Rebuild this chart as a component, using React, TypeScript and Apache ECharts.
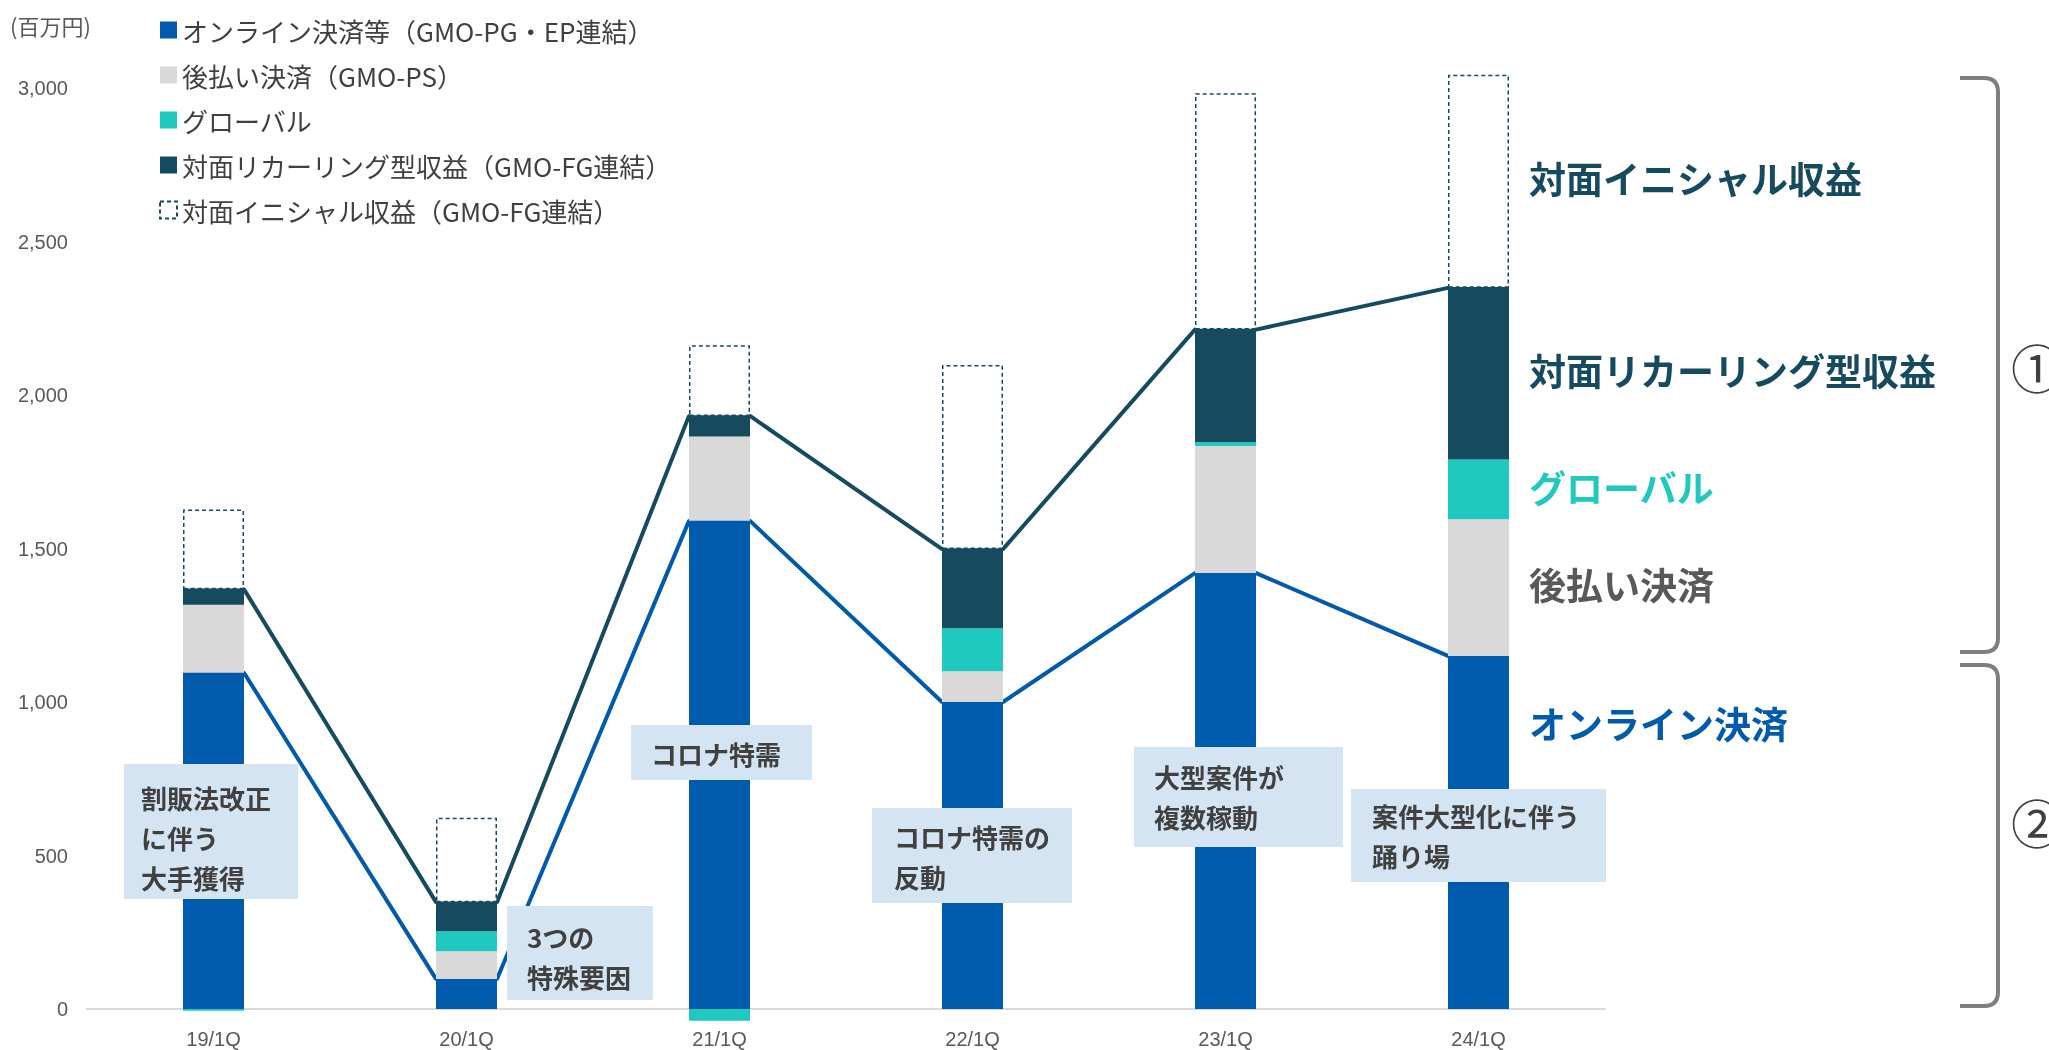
import React, { useEffect, useRef } from 'react';
import * as echarts from 'echarts';

const categories = ['19/1Q', '20/1Q', '21/1Q', '22/1Q', '23/1Q', '24/1Q'];
const seriesNames = [
  'オンライン決済等（GMO-PG・EP連結）',
  '後払い決済（GMO-PS）',
  'グローバル',
  '対面リカーリング型収益（GMO-FG連結）',
  '対面イニシャル収益（GMO-FG連結）',
];
const online = [1095, 98, 1590, 1000, 1420, 1150];
const deferred = [222, 90, 275, 100, 414, 445];
const globalRev = [-6, 65, -38, 140, 12, 195];
const recurring = [50, 95, 67, 258, 367, 559];
const initial = [260, 275, 230, 600, 770, 694];

const notes = [
  '割販法改正\nに伴う\n大手獲得',
  '3つの\n特殊要因',
  'コロナ特需',
  'コロナ特需の\n反動',
  '大型案件が\n複数稼動',
  '案件大型化に伴う\n踊り場',
];
const sideLabels = ['対面イニシャル収益', '対面リカーリング型収益', 'グローバル', '後払い決済', 'オンライン決済'];
const groupMarks = ['①', '②'];

const C_ONLINE = '#005BAC';
const C_GRAY = '#D9D9D9';
const C_TEAL = '#20C9BD';
const C_DARK = '#164A5F';
const FONT = '"Noto Sans CJK JP", "Noto Sans", sans-serif';
const LATIN = '"Liberation Sans", Arial, sans-serif';

echarts.graphic.registerShape(
  'braces',
  echarts.graphic.extendPath(
    'M1960,78 L1984,78 Q1998,78 1998,92 L1998,638 Q1998,652 1984,652 L1960,652 M1960,665 L1984,665 Q1998,665 1998,679 L1998,992 Q1998,1006 1984,1006 L1960,1006',
    {}
  )
);

export default function App() {
  const ref = useRef<HTMLDivElement>(null);
  useEffect(() => {
    if (!ref.current) return;
    const chart = echarts.init(ref.current, null, { renderer: 'svg' });
    const h = 0.1206;
    const recurringTop = online.map((v, i) => v + deferred[i] + Math.max(globalRev[i], 0) + recurring[i]);
    const onlineLine = online.flatMap((v, i) => [[i - h, v], [i + h, v]]);
    const recLine = recurringTop.flatMap((v, i) => [[i - h, v], [i + h, v]]);

    const noteBoxes = [
      { x: 124, y: 764, w: 174, h: 135, tx: 141, ty: 797 },
      { x: 507, y: 906, w: 146, h: 94, tx: 527, ty: 936 },
      { x: 631, y: 725, w: 181, h: 55, tx: 651, ty: 753 },
      { x: 872, y: 808, w: 200, h: 95, tx: 894, ty: 836 },
      { x: 1134, y: 747, w: 209, h: 100, tx: 1154, ty: 776 },
      { x: 1351, y: 789, w: 255, h: 93, tx: 1372, ty: 815 },
    ];
    const sidePos = [
      { y: 178, c: C_DARK },
      { y: 370, c: C_DARK },
      { y: 487, c: C_TEAL },
      { y: 584, c: '#595959' },
      { y: 723, c: C_ONLINE },
    ];

    const graphics: any[] = [
      {
        type: 'text',
        z: 100,
        style: { text: '(百万円)', x: 10, y: 25, fontSize: 22, fontFamily: FONT, fill: '#595959', textVerticalAlign: 'middle' },
      },
      {
        type: 'braces',
        z: 100,
        x: 0,
        y: 0,
        style: { stroke: '#7F7F7F', lineWidth: 4, fill: 'none' },
      },
    ];
    notes.forEach((t, i) => {
      const b = noteBoxes[i];
      graphics.push({
        type: 'rect',
        z: 100,
        shape: { x: b.x, y: b.y, width: b.w, height: b.h },
        style: { fill: '#D5E4F2' },
      });
      graphics.push({
        type: 'text',
        z: 101,
        style: {
          text: t,
          x: b.tx,
          y: b.ty - 20,
          fontSize: 26,
          fontWeight: 'bold',
          fontFamily: FONT,
          lineHeight: 40,
          fill: '#404040',
        },
      });
    });
    sideLabels.forEach((t, i) => {
      graphics.push({
        type: 'text',
        z: 100,
        style: {
          text: t,
          x: 1529,
          y: sidePos[i].y,
          fontSize: 37,
          fontWeight: 'bold',
          fontFamily: FONT,
          fill: sidePos[i].c,
          textVerticalAlign: 'middle',
        },
      });
    });
    groupMarks.forEach((t, i) => {
      graphics.push({
        type: 'text',
        z: 100,
        style: {
          text: t,
          x: 2011,
          y: i === 0 ? 366 : 821,
          fontSize: 52,
          fontFamily: FONT,
          fill: '#404040',
          textVerticalAlign: 'middle',
        },
      });
    });

    const barBase = { type: 'bar', stack: 'total', barWidth: 61, clip: false, z: 3 };
    chart.setOption({
      animation: false,
      textStyle: { fontFamily: FONT },
      grid: { left: 87, right: 444, top: 88, bottom: 41, containLabel: false },
      legend: {
        data: seriesNames.map((n, i) =>
          i === 4
            ? { name: n, icon: 'rect', itemStyle: { color: '#FFFFFF', borderColor: C_DARK, borderWidth: 2, borderType: [4, 3] } }
            : { name: n, icon: 'rect' }
        ),
        orient: 'vertical',
        left: 154,
        top: 10,
        itemWidth: 17,
        itemHeight: 17,
        itemGap: 15,
        selectedMode: false,
        textStyle: { fontSize: 26, color: '#404040', lineHeight: 30, fontFamily: FONT },
      },
      xAxis: [
        {
          type: 'category',
          data: categories,
          axisLine: { lineStyle: { color: '#D9D9D9', width: 2 } },
          axisTick: { show: false },
          axisLabel: { color: '#595959', fontSize: 20, margin: 20, fontFamily: LATIN },
        },
        { type: 'value', min: -0.5, max: 5.5, show: false },
      ],
      yAxis: {
        type: 'value',
        min: 0,
        max: 3000,
        interval: 500,
        axisLine: { show: false },
        axisTick: { show: false },
        splitLine: { show: false },
        axisLabel: {
          color: '#595959',
          fontSize: 20,
          margin: 19,
          fontFamily: LATIN,
          formatter: (v: number) => v.toLocaleString('en-US'),
        },
      },
      series: [
        { ...barBase, name: seriesNames[0], data: online, itemStyle: { color: C_ONLINE } },
        { ...barBase, name: seriesNames[1], data: deferred, itemStyle: { color: C_GRAY } },
        { ...barBase, name: seriesNames[2], data: globalRev, itemStyle: { color: C_TEAL } },
        { ...barBase, name: seriesNames[3], data: recurring, itemStyle: { color: C_DARK } },
        {
          ...barBase,
          name: seriesNames[4],
          data: initial,
          itemStyle: { color: '#FFFFFF', borderColor: C_DARK, borderWidth: 1.5, borderType: [4, 3] },
        },
        {
          type: 'line',
          xAxisIndex: 1,
          data: onlineLine,
          symbol: 'none',
          z: 1,
          lineStyle: { color: C_ONLINE, width: 4 },
          silent: true,
        },
        {
          type: 'line',
          xAxisIndex: 1,
          data: recLine,
          symbol: 'none',
          z: 1,
          lineStyle: { color: C_DARK, width: 4 },
          silent: true,
        },
      ],
      graphic: graphics,
    });
    return () => chart.dispose();
  }, []);
  return <div ref={ref} style={{ position: 'fixed', left: 0, top: 0, width: 2049, height: 1050 }} />;
}
